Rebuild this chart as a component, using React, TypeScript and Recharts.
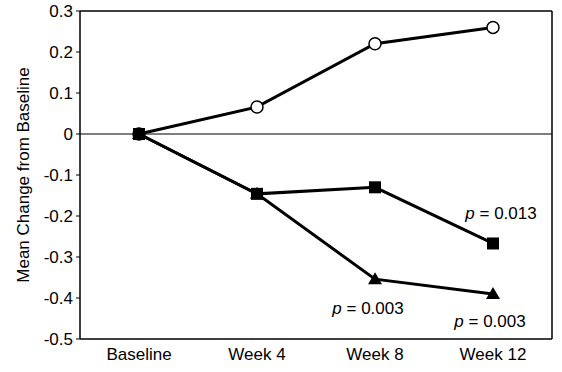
import React from 'react';
import { LineChart, Line, XAxis, YAxis, ReferenceLine, ReferenceDot } from 'recharts';

const weeks = ['Baseline', 'Week 4', 'Week 8', 'Week 12'];
const circleSeries = [0, 0.066, 0.22, 0.26];
const squareSeries = [0, -0.146, -0.13, -0.267];
const triangleSeries = [0, -0.146, -0.354, -0.39];
const yTicks = [-0.5, -0.4, -0.3, -0.2, -0.1, 0, 0.1, 0.2, 0.3];

const data = weeks.map((week, i) => ({
  week,
  circle: circleSeries[i],
  square: squareSeries[i],
  triangle: triangleSeries[i],
}));

const font = '"Liberation Sans", Arial, sans-serif';

const SquareDot = (props: any) => {
  const { cx, cy } = props;
  if (cx == null || cy == null) return null;
  return <rect x={cx - 6} y={cy - 6} width={12} height={12} fill="#000" />;
};

const TriangleDot = (props: any) => {
  const { cx, cy } = props;
  if (cx == null || cy == null) return null;
  return <path d={`M${cx},${cy - 7} L${cx + 7},${cy + 5} L${cx - 7},${cy + 5} Z`} fill="#000" />;
};

const PText = (props: any) => {
  const { viewBox, dx = 0, dy = 0, value } = props;
  if (!viewBox) return null;
  const x = viewBox.x + (viewBox.width || 0) / 2 + dx;
  const y = viewBox.y + (viewBox.height || 0) / 2 + dy;
  return (
    <text x={x} y={y} textAnchor="middle" dominantBaseline="central" fontFamily={font} fontSize={17} fill="#000">
      <tspan fontStyle="italic">p</tspan>
      <tspan> = {value}</tspan>
    </text>
  );
};

export default function App() {
  return (
    <div style={{ position: 'absolute', left: 0, top: 0, background: '#fff' }}>
      <LineChart width={562} height={372} data={data} margin={{ top: 11, right: 9, bottom: 0, left: 0 }}>
        <XAxis
          dataKey="week"
          height={33}
          padding={{ left: 59, right: 59 }}
          axisLine={{ stroke: '#000', strokeWidth: 1.5 }}
          tickLine={false}
          tickSize={0}
          tickMargin={9}
          tick={{ fill: '#000', fontSize: 17, fontFamily: font }}
          interval={0}
        />
        <YAxis
          width={80}
          domain={[-0.5, 0.3]}
          ticks={yTicks}
          interval={0}
          tickFormatter={(v: number) => (v === 0 ? '0' : v.toFixed(1))}
          axisLine={{ stroke: '#000', strokeWidth: 1.5 }}
          tickLine={{ stroke: '#000' }}
          tickSize={4}
          tickMargin={3}
          tick={{ fill: '#000', fontSize: 17, fontFamily: font }}
          label={{
            value: 'Mean Change from Baseline',
            angle: -90,
            position: 'insideLeft',
            offset: 23,
            style: { textAnchor: 'middle', fill: '#000', fontSize: 17, fontFamily: font },
          }}
        />
        <YAxis
          yAxisId="right"
          orientation="right"
          width={1}
          domain={[-0.5, 0.3]}
          ticks={yTicks}
          tick={false}
          tickLine={false}
          axisLine={{ stroke: '#000', strokeWidth: 1.5 }}
        />
        <ReferenceLine y={0.3} stroke="#000" strokeWidth={1.5} />
        <ReferenceLine y={0} stroke="#000" strokeWidth={1.2} />
        <Line dataKey="circle" stroke="#000" strokeWidth={3} isAnimationActive={false}
          dot={{ r: 6, fill: '#fff', stroke: '#000', strokeWidth: 1.5 }} />
        <Line dataKey="triangle" stroke="#000" strokeWidth={3} isAnimationActive={false} dot={<TriangleDot />} />
        <Line dataKey="square" stroke="#000" strokeWidth={3} isAnimationActive={false} dot={<SquareDot />} />
        <ReferenceDot x="Week 12" y={squareSeries[3]} r={1} fill="none" stroke="none"
          label={<PText value="0.013" dx={8} dy={-30} />} />
        <ReferenceDot x="Week 8" y={triangleSeries[2]} r={1} fill="none" stroke="none"
          label={<PText value="0.003" dx={-7} dy={29} />} />
        <ReferenceDot x="Week 12" y={triangleSeries[3]} r={1} fill="none" stroke="none"
          label={<PText value="0.003" dx={-3} dy={27} />} />
      </LineChart>
    </div>
  );
}
